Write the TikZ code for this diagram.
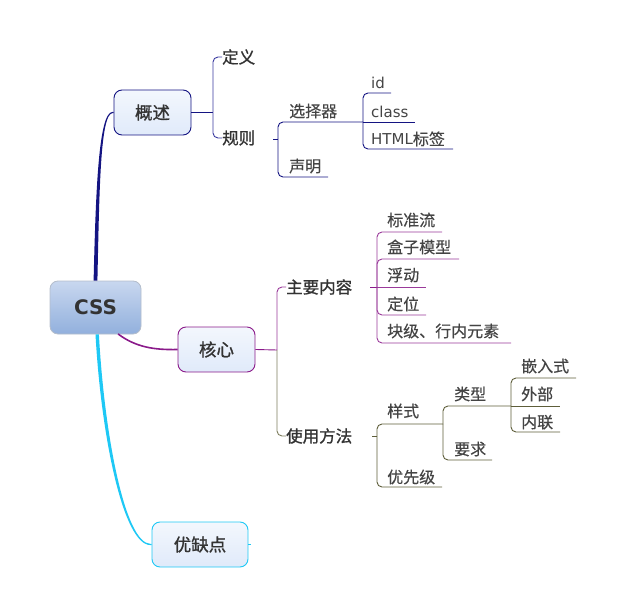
\documentclass[tikz,border=0pt]{standalone}
\usepackage{fontspec}
\setmainfont{DejaVu Sans}
\newfontfamily\cjk[FakeBold=0.4]{Noto Sans CJK SC}
\newfontfamily\cjkb[FakeBold=1.2]{Noto Sans CJK SC}
\newfontfamily\lat{DejaVu Sans}
\usetikzlibrary{calc}
\definecolor{navyc}{HTML}{141482}
\definecolor{navyl}{HTML}{3A3AA0}
\definecolor{purp}{HTML}{8A1A8A}
\definecolor{purpl}{HTML}{9A3A9A}
\definecolor{olive}{HTML}{5E5E3A}
\definecolor{olivel}{HTML}{7E7E5E}
\definecolor{cyanc}{HTML}{1EC8F5}
\definecolor{boxtop}{HTML}{F3F7FD}
\definecolor{boxbot}{HTML}{E0EAFA}
\definecolor{csstop}{HTML}{C8D7EF}
\definecolor{cssbot}{HTML}{92B0DD}
\definecolor{cssborder}{HTML}{B4BDCB}
\definecolor{txt}{HTML}{333333}
\definecolor{txtb}{HTML}{444444}
\begin{document}
\begin{tikzpicture}[x=1pt,y=-1pt,
  cssbox/.style={draw=cssborder, rounded corners=8, minimum width=91, minimum height=53, inner sep=0,
    top color=csstop, bottom color=cssbot, line width=0.8, font=\lat\bfseries\fontsize{20}{24}\selectfont, text=txt},
  topic/.style={rounded corners=8, minimum width=77, minimum height=45, inner sep=0,
    top color=boxtop, bottom color=boxbot, line width=0.9, font=\cjkb\fontsize{17.5}{20}\selectfont, text=txt},
  lvltwo/.style={anchor=west, inner sep=0, font=\cjkb\fontsize{16.5}{18}\selectfont, text=txt},
  lvlthree/.style={anchor=west, inner sep=0, font=\cjk\fontsize{16}{18}\selectfont, text=txtb},
  latin/.style={anchor=base west, inner sep=0, font=\lat\fontsize{15}{17}\selectfont, text=txtb},
  br/.style={rounded corners=5, line width=0.9},
]
\useasboundingbox (0,0) rectangle (624,615);

% main nodes
\node[cssbox] (css) at (95.5,307.5) {CSS};
\node[topic, draw=navyc] (gs) at (152.5,112.5) {概述};
\node[topic, draw=purp] (hx) at (216.5,349.5) {核心};
\node[topic, draw=cyanc, minimum width=96] (yq) at (200,544.5) {优缺点};

% main connectors (tapered)
\fill[navyc] ($(css.north)+(-1.9,0)$) .. controls (95.8,190) and (98.6,112.2) .. ($(gs.west)+(-1,-0.6)$)
  -- ($(gs.west)+(0,-0.6)$) -- ($(gs.west)+(0,0.6)$) -- ($(gs.west)+(-1,0.6)$)
  .. controls (100.2,113.8) and (99.4,190) .. ($(css.north)+(1.9,0)$) -- cycle;
\fill[cyanc] ($(css.south)+(0,0)$) .. controls (101,435) and (123,545.2) .. ($(yq.west)+(-1,0.6)$)
  -- ($(yq.west)+(0,0.6)$) -- ($(yq.west)+(0,-0.6)$) -- ($(yq.west)+(-1,-0.6)$)
  .. controls (125,543.6) and (104.4,435) .. ($(css.south)+(3.4,0)$) -- cycle;
\draw[purp, line width=1.6] ($(css.south)+(22.5,-0.5)$) .. controls (136,347.5) and (155,350) .. (hx.west);
\draw[cyanc, line width=0.9] (yq.east) -- ++(2.5,0);

% ---- 概述 branch
\node[lvltwo] (dy) at (222,57) {定义};
\node[lvltwo] (gz) at (222,138) {规则};
\draw[navyc, line width=0.9] (gs.east) -- (213,112.5) coordinate (gsb);
\draw[navyl, br] (gsb) |- (dy.west);
\draw[navyl, br] (gsb) |- (gz.west);

\coordinate (gzt) at (273,139);
\draw[navyc, line width=0.9] (gzt) -- (278,139) coordinate (gzb);
\node[lvlthree] (xzq) at (289,111) {选择器};
\node[lvlthree] (sm) at (289,166) {声明};
\coordinate (u-xzq) at (363,122);
\coordinate (u-sm) at (328,177);
\draw[navyc, br] (gzb) |- (u-xzq);
\draw[navyc, br] (gzb) |- (u-sm);

\node[latin] (id) at (371,89) {id};
\node[latin] (cls) at (371,117.5) {class};
\node[latin] (html) at (371,145) {HTML{\cjk\fontsize{16}{18}\selectfont 标签}};
\coordinate (u-id) at (391,93);
\coordinate (u-cls) at (415,122);
\coordinate (u-html) at (453,149);
\draw[navyc, br] (u-xzq) |- (u-id);
\draw[navyc, line width=0.9] (u-xzq) -- (u-cls);
\draw[navyc, br] (u-xzq) |- (u-html);

% ---- 核心 branch
\node[lvltwo] (zy) at (286,287) {主要内容};
\node[lvltwo] (sy) at (286,436) {使用方法};
\draw[purp, line width=0.9] (hx.east) -- (277,350) coordinate (hxb);
\draw[purpl, br] (hxb) |- (zy.west);
\draw[olivel, br] (hxb) |- (sy.west);

\coordinate (zyt) at (370,287);
\draw[purp, line width=0.9] (zyt) -- (377,287) coordinate (zyb);
\node[lvlthree] (bzl) at (387,220) {标准流};
\node[lvlthree] (hz) at (387,247) {盒子模型};
\node[lvlthree] (fd) at (387,275) {浮动};
\node[lvlthree] (dw) at (387,304) {定位};
\node[lvlthree] (kj) at (387,331) {块级、行内元素};
\coordinate (u-bzl) at (442,232);
\coordinate (u-hz) at (459,259);
\coordinate (u-fd) at (426,287);
\coordinate (u-dw) at (426,315);
\coordinate (u-kj) at (511,343);
\draw[purpl, br] (zyb) |- (u-bzl);
\draw[purpl, br] (zyb) |- (u-hz);
\draw[purpl, line width=0.9] (zyb) -- (u-fd);
\draw[purpl, br] (zyb) |- (u-dw);
\draw[purpl, br] (zyb) |- (u-kj);

\coordinate (syt) at (372,436);
\draw[olive, line width=0.9] (syt) -- (377,436) coordinate (syb);
\node[lvlthree] (ys) at (387,411) {样式};
\node[lvlthree] (yxj) at (387,477) {优先级};
\coordinate (u-ys) at (443,424);
\coordinate (u-yxj) at (442,487);
\draw[olive, br] (syb) |- (u-ys);
\draw[olive, br] (syb) |- (u-yxj);

\node[lvlthree] (lx) at (454,394) {类型};
\node[lvlthree] (yq2) at (454,449) {要求};
\coordinate (u-lx) at (511,406);
\coordinate (u-yq2) at (492,460);
\draw[olive, br] (u-ys) |- (u-lx);
\draw[olive, br] (u-ys) |- (u-yq2);

\node[lvlthree] (qr) at (521,366) {嵌入式};
\node[lvlthree] (wb) at (521,394) {外部};
\node[lvlthree] (nl) at (521,422) {内联};
\coordinate (u-qr) at (576,378);
\coordinate (u-wb) at (560,406);
\coordinate (u-nl) at (560,432);
\draw[olive, br] (u-lx) |- (u-qr);
\draw[olive, line width=0.9] (u-lx) -- (u-wb);
\draw[olive, br] (u-lx) |- (u-nl);
\end{tikzpicture}
\end{document}
